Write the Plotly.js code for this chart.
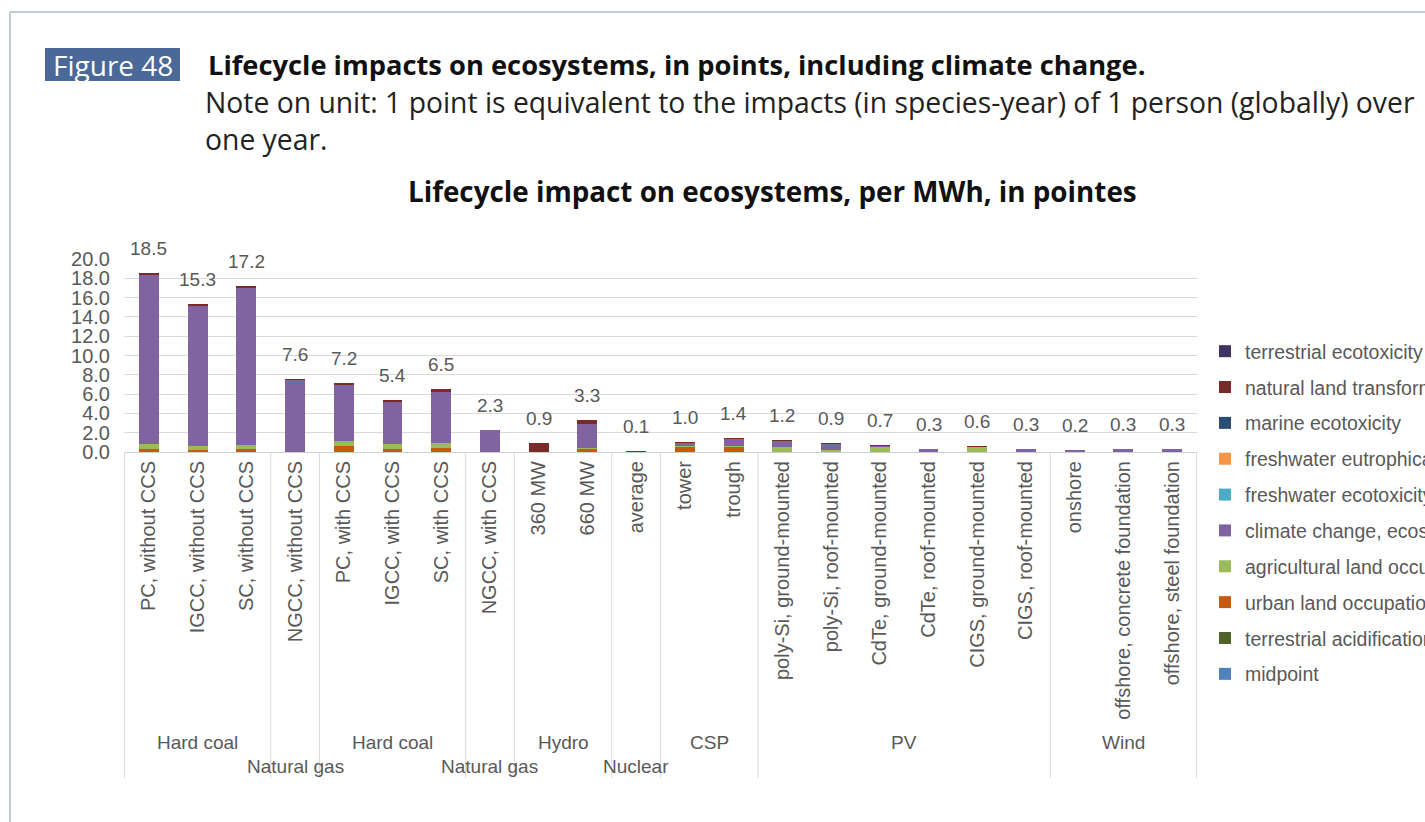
<!DOCTYPE html>
<html>
<head>
<meta charset="utf-8">
<script src="https://cdn.plot.ly/plotly-3.0.1.min.js"></script>
<style>
html,body{margin:0;padding:0;background:#fff;}
#chart{width:1425px;height:822px;}
</style>
</head>
<body>
<div id="chart"></div>
<script>
// ---------- data ----------
const categories = ["PC, without CCS", "IGCC, without CCS", "SC, without CCS", "NGCC, without CCS",
  "PC, with CCS", "IGCC, with CCS", "SC, with CCS", "NGCC, with CCS",
  "360 MW", "660 MW", "average", "tower", "trough",
  "poly-Si, ground-mounted", "poly-Si, roof-mounted", "CdTe, ground-mounted", "CdTe, roof-mounted",
  "CIGS, ground-mounted", "CIGS, roof-mounted",
  "onshore", "offshore, concrete foundation", "offshore, steel foundation"];
const groupNames = ["Hard coal", "Natural gas", "Hard coal", "Natural gas", "Hydro", "Nuclear", "CSP", "PV", "Wind"];
const groupSizes = [3, 1, 3, 1, 2, 1, 2, 6, 3];
const totals = [18.5, 15.3, 17.2, 7.6, 7.2, 5.4, 6.5, 2.3, 0.9, 3.3, 0.1, 1.0, 1.4, 1.2, 0.9, 0.7, 0.3, 0.6, 0.3, 0.2, 0.3, 0.3];

const midpoint        = [0,0,0,0,0,0,0,0,0,0,0,0,0,0,0,0,0,0,0,0,0,0];
const terrAcid        = [0,0,0,0,0,0,0,0,0,0,0,0,0,0,0,0,0,0,0,0,0,0];
const urbanLand       = [0.3,0.25,0.3,0.02,0.6,0.35,0.45,0.02,0.05,0.3,0,0.55,0.55,0.02,0.02,0.02,0,0.02,0,0,0,0];
const agriLand        = [0.5,0.35,0.45,0.03,0.55,0.5,0.5,0.03,0,0.1,0,0.05,0.1,0.55,0.2,0.5,0.02,0.45,0.02,0,0,0];
const climate         = [17.5,14.55,16.25,7.45,5.75,4.3,5.25,2.2,0,2.5,0.05,0.3,0.7,0.6,0.65,0.15,0.25,0.1,0.25,0.2,0.3,0.3];
const freshEcotox     = [0,0,0,0,0,0,0,0,0,0,0,0,0,0,0,0,0,0,0,0,0,0];
const freshEutroph    = [0,0,0,0,0,0,0,0,0,0,0,0,0,0,0,0,0,0,0,0,0,0];
const marineEcotox    = [0,0,0,0,0,0,0,0,0,0,0,0,0,0,0,0,0,0,0,0,0,0];
const naturalLand     = [0.2,0.15,0.2,0.1,0.3,0.25,0.3,0.08,0.85,0.4,0.05,0.1,0.05,0.03,0.03,0.03,0.03,0.03,0.03,0,0,0];
const terrEcotox      = [0,0,0,0,0,0,0,0,0,0,0,0,0,0,0,0,0,0,0,0,0,0];

const seriesNames = ["midpoint", "terrestrial acidification", "urban land occupation", "agricultural land occupation",
  "climate change, ecosystems", "freshwater ecotoxicity", "freshwater eutrophication", "marine ecotoxicity",
  "natural land transformation", "terrestrial ecotoxicity"];
const seriesValues = [midpoint, terrAcid, urbanLand, agriLand, climate, freshEcotox, freshEutroph, marineEcotox, naturalLand, terrEcotox];
const seriesColors = ["#4f81bd", "#4f6228", "#c55a11", "#9bbb59", "#8064a2", "#4bacc6", "#f79646", "#2c4d75", "#7b2a2a", "#403264"];

// ---------- geometry helpers ----------
const L = 124, R = 1197, T = 259, B = 452;
const PW = R - L, PH = B - T;
const px = p => (p - L) / PW;
const py = p => (B - p) / PH;

const axisFamily = "Liberation Sans, Arial, sans-serif";
const tickFont = {family: axisFamily, size: 20, color: "#595959"};
const labelFont = {family: axisFamily, size: 19, color: "#595959"};
const docFont = "Open Sans, Calibri, sans-serif";

const traces = seriesNames.map((n, i) => ({
  type: "bar", name: n, x: categories, y: seriesValues[i],
  marker: {color: seriesColors[i]}, legendgroup: "g" + i, legendrank: 100 - i,
  hoverinfo: "x+y+name"
}));

const annotations = [];
const shapes = [];

// data labels
categories.forEach((c, i) => {
  annotations.push({x: c, y: totals[i], xref: "x", yref: "y", text: totals[i].toFixed(1),
    showarrow: false, yanchor: "bottom", yshift: 12, font: labelFont});
});

// group labels and separators
let start = 0;
shapes.push({type: "line", xref: "x", yref: "paper", x0: -0.5, x1: -0.5, y0: 0, y1: py(778),
  line: {color: "#d9d9d9", width: 1}});
groupNames.forEach((g, i) => {
  const size = groupSizes[i];
  const center = start + (size - 1) / 2;
  annotations.push({x: center, y: size === 1 ? py(766) : py(742), xref: "x", yref: "paper",
    text: g, showarrow: false, xanchor: "center", yanchor: "middle", font: labelFont});
  start += size;
  shapes.push({type: "line", xref: "x", yref: "paper", x0: start - 0.5, x1: start - 0.5, y0: 0, y1: py(778),
    line: {color: "#d9d9d9", width: 1}});
});

// document frame
shapes.push({type: "line", xref: "paper", yref: "paper", x0: px(10), x1: px(10), y0: py(12), y1: py(822),
  line: {color: "#c3cad4", width: 2}});
shapes.push({type: "line", xref: "paper", yref: "paper", x0: px(10), x1: px(1425), y0: py(12), y1: py(12),
  line: {color: "#c3cad4", width: 2}});
// figure label box
shapes.push({type: "rect", xref: "paper", yref: "paper", x0: px(45), x1: px(180), y0: py(81), y1: py(48),
  fillcolor: "#4a6898", line: {width: 0}});

annotations.push({xref: "paper", yref: "paper", x: px(112.5), y: py(64.5), text: "Figure 48",
  showarrow: false, xanchor: "center", yanchor: "middle", font: {family: docFont, size: 28, color: "#ffffff"}});
annotations.push({xref: "paper", yref: "paper", x: px(206), y: py(64),
  text: "<b>Lifecycle impacts on ecosystems, in points, including climate change.</b>",
  showarrow: false, xanchor: "left", yanchor: "middle", font: {family: docFont, size: 27.3, color: "#111111"}});
annotations.push({xref: "paper", yref: "paper", x: px(203), y: py(102),
  text: "Note on unit: 1 point is equivalent to the impacts (in species-year) of 1 person (globally) over",
  showarrow: false, xanchor: "left", yanchor: "middle", font: {family: docFont, size: 28.3, color: "#222222"}});
annotations.push({xref: "paper", yref: "paper", x: px(203), y: py(139), text: "one year.",
  showarrow: false, xanchor: "left", yanchor: "middle", font: {family: docFont, size: 28.3, color: "#222222"}});
annotations.push({xref: "paper", yref: "paper", x: px(772), y: py(191),
  text: "<b>Lifecycle impact on ecosystems, per MWh, in pointes</b>",
  showarrow: false, xanchor: "center", yanchor: "middle", font: {family: docFont, size: 27.8, color: "#111111"}});

const layout = {
  width: 1425, height: 822,
  margin: {l: L, r: 1425 - R, t: T, b: 822 - B, autoexpand: false},
  paper_bgcolor: "#ffffff", plot_bgcolor: "#ffffff",
  barmode: "stack", bargap: 0.59,
  showlegend: true,
  legend: {x: px(1205), y: py(332), xanchor: "left", yanchor: "top", traceorder: "grouped",
    tracegroupgap: 7.5, maxheight: 700, font: {family: axisFamily, size: 19.5, color: "#595959"},
    bgcolor: "rgba(0,0,0,0)"},
  xaxis: {type: "category", tickangle: -90, tickfont: tickFont, showgrid: false, showline: true,
    linecolor: "#d0d0d0", linewidth: 1, ticks: "", automargin: false, fixedrange: true},
  yaxis: {range: [0, 20], dtick: 2, tickformat: ".1f", tickfont: tickFont, gridcolor: "#d9d9d9",
    zeroline: false, showline: false, ticks: "", ticklabelstandoff: 13, automargin: false, fixedrange: true},
  annotations: annotations,
  shapes: shapes
};

Plotly.newPlot("chart", traces, layout, {displayModeBar: false, staticPlot: true});
</script>
</body>
</html>
